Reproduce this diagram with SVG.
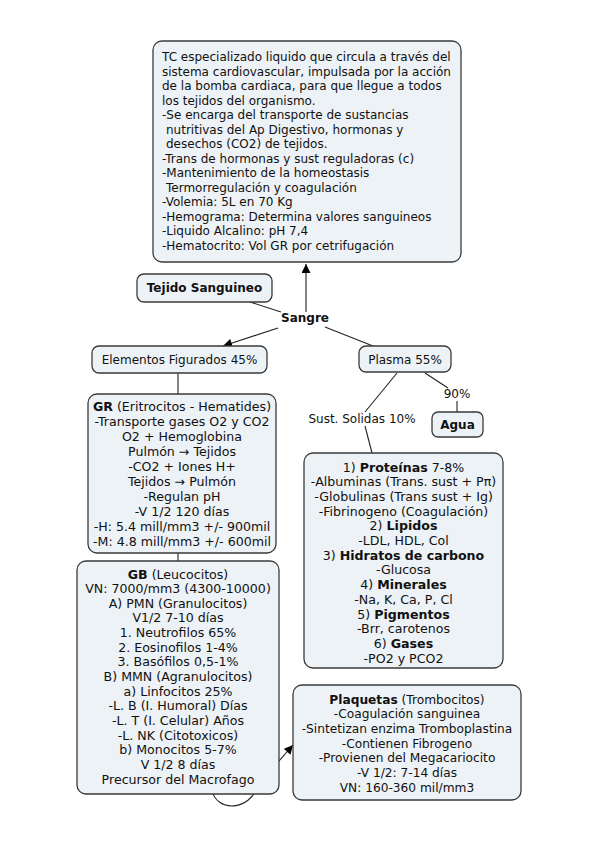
<svg xmlns="http://www.w3.org/2000/svg" width="599" height="848" viewBox="0 0 599 848">
<defs>
<style>
.box{fill:#edf2f6;stroke:#3a3a3a;stroke-width:1.3}
text{font-family:"DejaVu Sans","Verdana",sans-serif;font-size:12px;fill:#111}
.c{text-anchor:middle}
.b{font-weight:bold}
.m{font-size:12.6px}
.p{font-size:12.2px}
.ln{fill:none;stroke:#222;stroke-width:1.1}
</style>
<marker id="ah" viewBox="0 0 10 10" refX="10" refY="5" markerWidth="10" markerHeight="9" markerUnits="userSpaceOnUse" orient="auto">
<path d="M0,0 L10,5 L0,10 z" fill="#000"/>
</marker>
</defs>
<rect width="599" height="848" fill="#fff"/>
<g id="connectors">
<path class="ln" d="M306,312 L306,264" marker-end="url(#ah)"/>
<path class="ln" d="M250,302 L281,312"/>
<path class="ln" d="M278,328 L223,346" marker-end="url(#ah)"/>
<path class="ln" d="M325,327 L373,346"/>
<path class="ln" d="M178,373 L178,394"/>
<path class="ln" d="M178,553 L178,561"/>
<path class="ln" d="M397,373 L365,412"/>
<path class="ln" d="M365,426 L372,453"/>
<path class="ln" d="M425,373 L448,388"/>
<path class="ln" d="M457,401 L457,412"/>
<path class="ln" d="M212,790 C216,812 250,812 258,785 L293,745" marker-end="url(#ah)"/>
</g>
<g id="n-top">
<rect class="box" x="153" y="41" width="308" height="221" rx="9"/>
<text x="162" y="61">TC especializado liquido que circula a través del</text>
<text x="162" y="75.5">sistema cardiovascular, impulsada por la acción</text>
<text x="162" y="90">de la bomba cardiaca, para que llegue a todos</text>
<text x="162" y="104.5">los tejidos del organismo.</text>
<text x="162" y="119">-Se encarga del transporte de sustancias</text>
<text x="166" y="133.5">nutritivas del Ap Digestivo, hormonas y</text>
<text x="166" y="148">desechos (CO2) de tejidos.</text>
<text x="162" y="162.5">-Trans de hormonas y sust reguladoras (c)</text>
<text x="162" y="177">-Mantenimiento de la homeostasis</text>
<text x="166" y="191.5">Termorregulación y coagulación</text>
<text x="162" y="206">-Volemia: 5L en 70 Kg</text>
<text x="162" y="220.5">-Hemograma: Determina valores sanguineos</text>
<text x="162" y="235">-Liquido Alcalino: pH 7,4</text>
<text x="162" y="249.5">-Hematocrito: Vol GR por cetrifugación</text>
</g>
<g id="n-tejido">
<rect class="box" x="137" y="274" width="135" height="28" rx="7"/>
<text class="c b" x="204.5" y="292">Tejido Sanguineo</text>
</g>
<g id="n-sangre">
<text class="c b" x="305" y="322">Sangre</text>
</g>
<g id="n-elementos">
<rect class="box" x="92" y="346" width="175" height="27" rx="7"/>
<text class="c" x="179.5" y="364">Elementos Figurados 45%</text>
</g>
<g id="n-plasma">
<rect class="box" x="359" y="346" width="92" height="26" rx="7"/>
<text class="c" x="405" y="363.5">Plasma 55%</text>
</g>
<g id="n-solidas">
<text class="c" x="362" y="423">Sust. Solidas 10%</text>
</g>
<g id="n-90">
<text class="c" x="457" y="398">90%</text>
</g>
<g id="n-agua">
<rect class="box" x="432" y="412" width="51" height="25" rx="6"/>
<text class="c b" x="457.5" y="429">Agua</text>
</g>
<g id="n-gr">
<rect class="box" x="88" y="394" width="188" height="159" rx="9"/>
<text class="c m" x="182" y="411"><tspan class="b">GR</tspan> (Eritrocitos - Hematides)</text>
<text class="c m" x="182" y="426">-Transporte gases O2 y CO2</text>
<text class="c m" x="182" y="441">O2 + Hemoglobina</text>
<text class="c m" x="182" y="456">Pulmón → Tejidos</text>
<text class="c m" x="182" y="471">-CO2 + Iones H+</text>
<text class="c m" x="182" y="486">Tejidos → Pulmón</text>
<text class="c m" x="182" y="501">-Regulan pH</text>
<text class="c m" x="182" y="516">-V 1/2 120 días</text>
<text class="c m" x="182" y="531">-H: 5.4 mill/mm3 +/- 900mil</text>
<text class="c m" x="182" y="546">-M: 4.8 mill/mm3 +/- 600mil</text>
</g>
<g id="n-gb">
<rect class="box" x="77" y="561" width="202" height="233" rx="9"/>
<text class="c m" x="178" y="578.5"><tspan class="b">GB</tspan> (Leucocitos)</text>
<text class="c m" x="178" y="593.1">VN: 7000/mm3 (4300-10000)</text>
<text class="c m" x="178" y="607.8">A) PMN (Granulocitos)</text>
<text class="c m" x="178" y="622.4">V1/2 7-10 días</text>
<text class="c m" x="178" y="637.1">1. Neutrofilos 65%</text>
<text class="c m" x="178" y="651.7">2. Eosinofilos 1-4%</text>
<text class="c m" x="178" y="666.3">3. Basófilos 0,5-1%</text>
<text class="c m" x="178" y="681">B) MMN (Agranulocitos)</text>
<text class="c m" x="178" y="695.6">a) Linfocitos 25%</text>
<text class="c m" x="178" y="710.3">-L. B (I. Humoral) Días</text>
<text class="c m" x="178" y="724.9">-L. T (I. Celular) Años</text>
<text class="c m" x="178" y="739.5">-L. NK (Citotoxicos)</text>
<text class="c m" x="178" y="754.2">b) Monocitos 5-7%</text>
<text class="c m" x="178" y="768.8">V 1/2 8 días</text>
<text class="c m" x="178" y="783.5">Precursor del Macrofago</text>
</g>
<g id="n-solidos">
<rect class="box" x="304" y="453" width="199" height="215" rx="9"/>
<text class="c m" x="403.5" y="471.5">1) <tspan class="b">Proteínas</tspan> 7-8%</text>
<text class="c m" x="403.5" y="486.2">-Albuminas (Trans. sust + Pπ)</text>
<text class="c m" x="403.5" y="500.9">-Globulinas (Trans sust + Ig)</text>
<text class="c m" x="403.5" y="515.6">-Fibrinogeno (Coagulación)</text>
<text class="c m" x="403.5" y="530.3">2) <tspan class="b">Lipidos</tspan></text>
<text class="c m" x="403.5" y="545">-LDL, HDL, Col</text>
<text class="c m" x="403.5" y="559.7">3) <tspan class="b">Hidratos de carbono</tspan></text>
<text class="c m" x="403.5" y="574.4">-Glucosa</text>
<text class="c m" x="403.5" y="589.1">4) <tspan class="b">Minerales</tspan></text>
<text class="c m" x="403.5" y="603.8">-Na, K, Ca, P, Cl</text>
<text class="c m" x="403.5" y="618.5">5) <tspan class="b">Pigmentos</tspan></text>
<text class="c m" x="403.5" y="633.2">-Brr, carotenos</text>
<text class="c m" x="403.5" y="647.9">6) <tspan class="b">Gases</tspan></text>
<text class="c m" x="403.5" y="662.6">-PO2 y PCO2</text>
</g>
<g id="n-plaquetas">
<rect class="box" x="293" y="685" width="228" height="115" rx="9"/>
<text class="c p" x="407" y="703.5"><tspan class="b">Plaquetas</tspan> (Trombocitos)</text>
<text class="c p" x="407" y="718.2">-Coagulación sanguinea</text>
<text class="c p" x="407" y="732.8">-Sintetizan enzima Tromboplastina</text>
<text class="c p" x="407" y="747.5">-Contienen Fibrogeno</text>
<text class="c p" x="407" y="762.2">-Provienen del Megacariocito</text>
<text class="c p" x="407" y="776.8">-V 1/2: 7-14 días</text>
<text class="c p" x="407" y="791.5">VN: 160-360 mil/mm3</text>
</g>
</svg>
